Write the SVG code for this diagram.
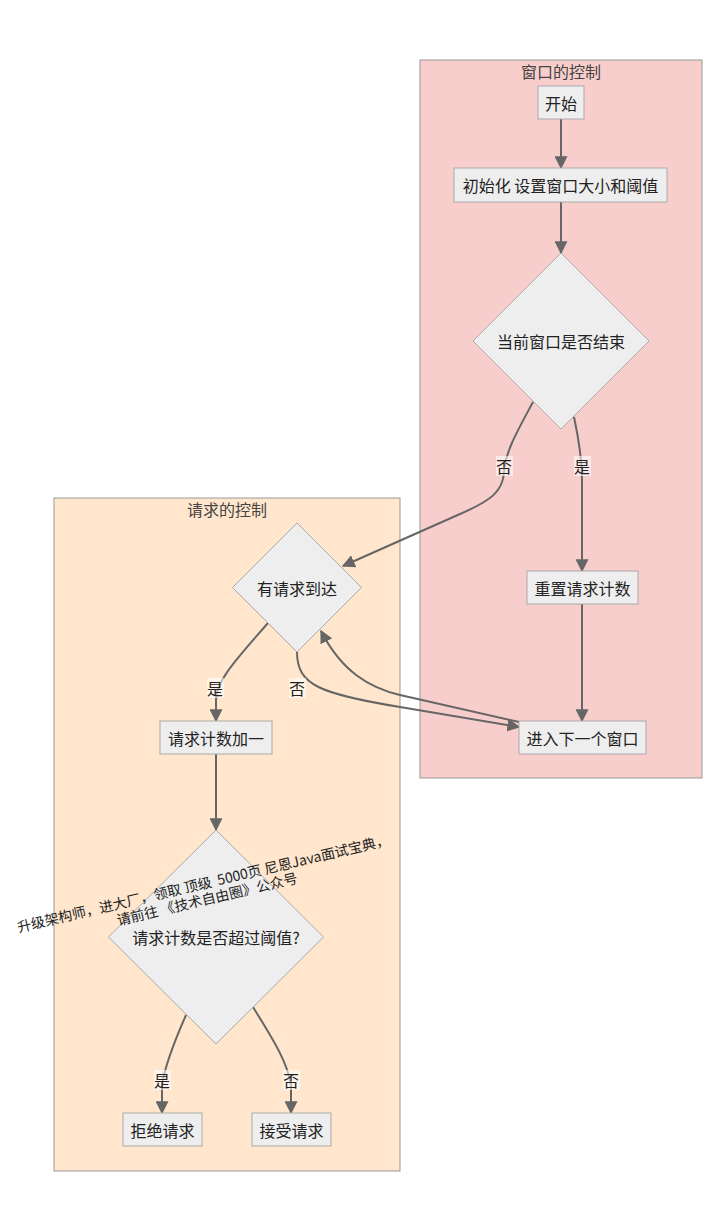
<svg xmlns="http://www.w3.org/2000/svg" width="712" height="1232" viewBox="0 0 712 1232">
<style>
text{font-family:"Noto Sans CJK SC","Liberation Sans",sans-serif;font-size:16px;fill:#222;text-anchor:middle;dominant-baseline:central}
.cl-title{fill:#444}
.node{fill:#eee;stroke:#aaa;stroke-width:1}
.edge{fill:none;stroke:#666;stroke-width:2}
.lbl-bg{fill:#fff;opacity:0.55}
.wm{font-size:14px;fill:#222}
</style>
<defs>
<marker id="arrow" viewBox="0 0 10 10" refX="9" refY="5" markerUnits="userSpaceOnUse" markerWidth="13" markerHeight="13" orient="auto">
<path d="M0,0 L10,5 L0,10 z" fill="#666"/>
</marker>
</defs>
<rect width="712" height="1232" fill="#fff"/>
<g id="cluster-window">
<rect x="420" y="60" width="282" height="718" fill="#f8cecc" stroke="#999" stroke-width="1"/>
<text class="cl-title" x="561" y="71">窗口的控制</text>
</g>
<g id="cluster-request">
<rect x="54" y="498" width="346" height="673" fill="#ffe6cc" stroke="#999" stroke-width="1"/>
<text class="cl-title" x="227" y="509">请求的控制</text>
</g>
<g id="edges">
<path class="edge" d="M561,119 L561,168" marker-end="url(#arrow)"/>
<path class="edge" d="M561,202 L561,253" marker-end="url(#arrow)"/>
<path class="edge" d="M533,402 C518,430 505,452 504,472 C503,492 490,501 460,514 L343,566" marker-end="url(#arrow)"/>
<path class="edge" d="M574,417 C580,445 582,460 582,480 L582,571" marker-end="url(#arrow)"/>
<path class="edge" d="M582,604 L582,721" marker-end="url(#arrow)"/>
<path class="edge" d="M268,623 C240,655 216,680 216,700 L216,721" marker-end="url(#arrow)"/>
<path class="edge" d="M297,652 C297,685 320,694 400,707 L519,727" marker-end="url(#arrow)"/>
<path class="edge" d="M519,722 L400,695 C370,688 342,672 321,631" marker-end="url(#arrow)"/>
<path class="edge" d="M216,754 L216,830" marker-end="url(#arrow)"/>
<path class="edge" d="M186,1015 C175,1040 165,1065 162,1085 L162,1113" marker-end="url(#arrow)"/>
<path class="edge" d="M253,1007 C270,1035 287,1060 291,1085 L291,1113" marker-end="url(#arrow)"/>
<rect class="lbl-bg" x="496" y="456" width="17" height="20"/>
<text x="504" y="466">否</text>
<rect class="lbl-bg" x="574" y="456" width="17" height="20"/>
<text x="582" y="466">是</text>
<rect class="lbl-bg" x="207" y="678" width="17" height="20"/>
<text x="215" y="688">是</text>
<rect class="lbl-bg" x="289" y="678" width="17" height="20"/>
<text x="297" y="688">否</text>
<rect class="lbl-bg" x="154" y="1070" width="17" height="20"/>
<text x="162" y="1080">是</text>
<rect class="lbl-bg" x="283" y="1070" width="17" height="20"/>
<text x="291" y="1080">否</text>
</g>
<g id="node-start">
<rect class="node" x="538" y="86" width="46" height="33"/>
<text x="561" y="102.5">开始</text>
</g>
<g id="node-init">
<rect class="node" x="454" y="168" width="213" height="34"/>
<text x="560.5" y="185">初始化 设置窗口大小和阈值</text>
</g>
<g id="node-window-end">
<polygon class="node" points="561,253 649,341 561,429 473,341"/>
<text x="561" y="341">当前窗口是否结束</text>
</g>
<g id="node-reset">
<rect class="node" x="527" y="571" width="111" height="33"/>
<text x="582.5" y="587.5">重置请求计数</text>
</g>
<g id="node-next">
<rect class="node" x="519" y="721" width="127" height="33"/>
<text x="582.5" y="737.5">进入下一个窗口</text>
</g>
<g id="node-arrive">
<polygon class="node" points="297,523 361.5,587.5 297,652 232.5,587.5"/>
<text x="297" y="587.5">有请求到达</text>
</g>
<g id="node-incr">
<rect class="node" x="160" y="721" width="112" height="33"/>
<text x="216" y="737.5">请求计数加一</text>
</g>
<g id="node-exceed">
<polygon class="node" points="216,830 323.5,937 216,1044 108.5,937"/>
<text x="216" y="937">请求计数是否超过阈值?</text>
</g>
<g id="node-reject">
<rect class="node" x="123" y="1113" width="79" height="33"/>
<text x="162.5" y="1129.5">拒绝请求</text>
</g>
<g id="node-accept">
<rect class="node" x="252" y="1113" width="79" height="33"/>
<text x="291.5" y="1129.5">接受请求</text>
</g>
<g id="watermark" transform="translate(205,890.5) rotate(-13.3)">
<text class="wm" x="0" y="-8" xml:space="preserve">升级架构师，进大厂，领取 顶级  5000页 尼恩Java面试宝典，</text>
<text class="wm" x="0" y="8">请前往 《技术自由圈》公众号</text>
</g>
</svg>
